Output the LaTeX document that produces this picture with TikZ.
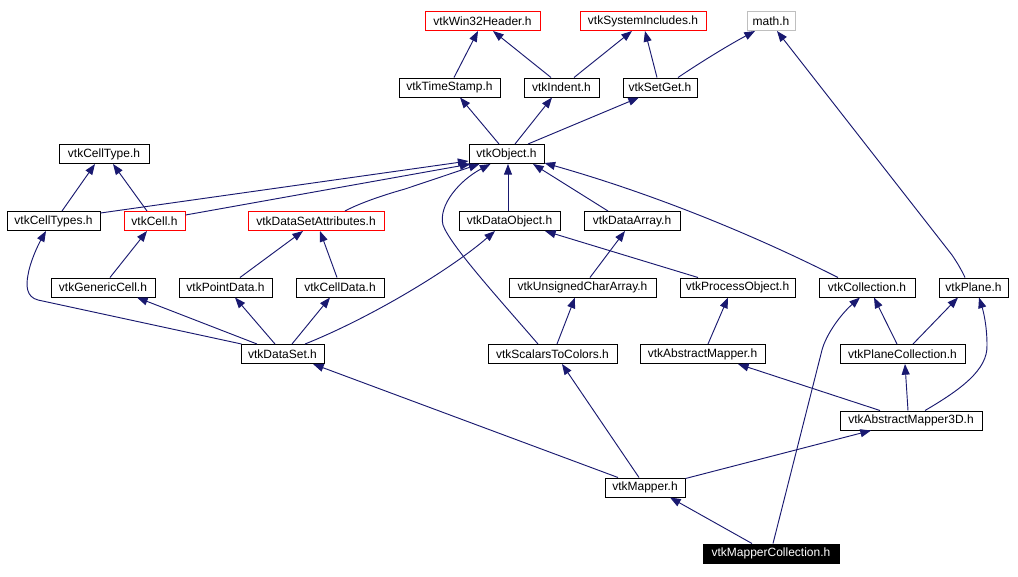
\documentclass[tikz,border=0pt]{standalone}
\usepackage{fontspec}
\setmainfont{Liberation Sans}
\usetikzlibrary{calc,arrows.meta}
\definecolor{edgeblue}{HTML}{191970}
\definecolor{boxred}{HTML}{FF0000}
\definecolor{boxgray}{HTML}{BFBFBF}
\begin{document}
\begin{tikzpicture}[x=0.75pt,y=-0.75pt,
  box/.style={draw=black, line width=0.75pt, minimum height=14.25pt, inner sep=0pt, font=\fontsize{9pt}{10.8pt}\selectfont},
  redbox/.style={box, draw=boxred},
  graybox/.style={box, draw=boxgray},
  rootbox/.style={box, fill=black, text=white},
  dep/.style={draw=edgeblue, line width=0.7pt, -{Triangle[length=8pt,width=6pt]}}
]
\fill[white] (0,0) rectangle (1018,576);
\useasboundingbox (0,0) rectangle (1018,576);

% row 1
\node[redbox, minimum width=86.25pt] (win32) at (482.5,21) {vtkWin32Header.h};
\node[redbox, minimum width=94.5pt] (sysinc) at (643,21) {vtkSystemIncludes.h};
\node[graybox, minimum width=36pt] (math) at (771,21) {math.h};
% row 2
\node[box, minimum width=75.75pt] (timestamp) at (449.5,87.5) {vtkTimeStamp.h};
\node[box, minimum width=56.25pt] (indent) at (561.5,87.5) {vtkIndent.h};
\node[box, minimum width=55.5pt] (setget) at (660,87.5) {vtkSetGet.h};
% row 3
\node[box, minimum width=67.5pt] (celltype) at (104,154) {vtkCellType.h};
\node[box, minimum width=56.25pt] (object) at (506.5,154) {vtkObject.h};
% row 4
\node[box, minimum width=69.75pt] (celltypes) at (53.5,221) {vtkCellTypes.h};
\node[redbox, minimum width=45.75pt] (cell) at (154.5,221) {vtkCell.h};
\node[redbox, minimum width=102pt] (dsattr) at (316,221) {vtkDataSetAttributes.h};
\node[box, minimum width=75.75pt] (dataobject) at (509.5,221) {vtkDataObject.h};
\node[box, minimum width=72pt] (dataarray) at (632,221) {vtkDataArray.h};
% row 5
\node[box, minimum width=78pt] (genericcell) at (103,287.5) {vtkGenericCell.h};
\node[box, minimum width=69.75pt] (pointdata) at (225.5,287.5) {vtkPointData.h};
\node[box, minimum width=66pt] (celldata) at (340,287.5) {vtkCellData.h};
\node[box, minimum width=110.25pt] (ucarray) at (582.5,287.5) {vtkUnsignedCharArray.h};
\node[box, minimum width=86.25pt] (procobj) at (737.5,287.5) {vtkProcessObject.h};
\node[box, minimum width=72pt] (collection) at (867,287.5) {vtkCollection.h};
\node[box, minimum width=51.75pt] (plane) at (973.5,287.5) {vtkPlane.h};
% row 6
\node[box, minimum width=62.25pt] (dataset) at (282.5,354) {vtkDataSet.h};
\node[box, minimum width=96.75pt] (s2c) at (552.5,354) {vtkScalarsToColors.h};
\node[box, minimum width=93.75pt] (absmapper) at (702.5,354) {vtkAbstractMapper.h};
\node[box, minimum width=93.75pt] (planecoll) at (902.5,354) {vtkPlaneCollection.h};
% row 7
\node[box, minimum width=106.5pt] (absmapper3d) at (911,420.5) {vtkAbstractMapper3D.h};
% row 8
\node[box, minimum width=60pt] (mapper) at (645,487.5) {vtkMapper.h};
% row 9
\node[rootbox, minimum width=102pt] (mappercoll) at (771,553.5) {vtkMapperCollection.h};

% edges
\draw[dep] ($(timestamp.north)+(4.5,0)$) -- ($(win32.south)+(-4.5,0)$);
\draw[dep] ($(indent.north)+(-10.5,0)$) -- ($(win32.south)+(10.5,0)$);
\draw[dep] ($(indent.north)+(12.5,0)$) -- ($(sysinc.south)+(-11,0)$);
\draw[dep] ($(setget.north)+(-3,0)$) -- ($(sysinc.south)+(2,0)$);
\draw[dep] ($(setget.north)+(18,0)$) .. controls (695,66) and (725,47) .. ($(math.south)+(-16,0)$);
\draw[dep] ($(object.north)+(-7.5,0)$) -- ($(timestamp.south)+(10.5,0)$);
\draw[dep] ($(object.north)+(8.5,0)$) -- ($(indent.south)+(-9.5,0)$);
\draw[dep] ($(object.north)+(21.5,0)$) -- ($(setget.south)+(-21,0)$);
\draw[dep] ($(plane.north)+(-8.5,0)$) .. controls (961,269) and (958,264) .. (952,255) -- ($(math.south)+(6,0)$);
\draw[dep] ($(celltypes.north)+(8.5,0)$) -- ($(celltype.south)+(-9,0)$);
\draw[dep] ($(cell.north)+(-7.5,0)$) -- ($(celltype.south)+(9,0)$);
\draw[dep] ($(celltypes.north east)+(0,2)$) -- ($(object.south west)+(0,-3)$);
\draw[dep] ($(cell.north east)+(0,4)$) -- ($(object.south west)+(2,0)$);
\draw[dep] ($(dsattr.north)+(29,0)$) .. controls (358,204) and (380,196) .. (405,189) -- ($(object.south west)+(11,0)$);
\draw[dep] ($(s2c.north)+(-14.5,0)$) .. controls (500,300) and (450,245) .. (443,225) .. controls (438,205) and (460,180) .. ($(object.south west)+(22,0)$);
\draw[dep] ($(dataobject.north)+(-1.5,0)$) -- ($(object.south)+(1.5,0)$);
\draw[dep] ($(dataarray.north)+(-24,0)$) -- ($(object.south)+(26.5,0)$);
\draw[dep] ($(collection.north)+(-29,0)$) .. controls (740,228) and (640,190) .. ($(object.south east)+(0,-1)$);
\draw[dep] ($(genericcell.north)+(7,0)$) -- ($(cell.south)+(-7.5,0)$);
\draw[dep] ($(pointdata.north)+(14.5,0)$) -- ($(dsattr.south)+(-13,0)$);
\draw[dep] ($(celldata.north)+(-3,0)$) -- ($(dsattr.south)+(4,0)$);
\draw[dep] ($(ucarray.north)+(7.5,0)$) -- ($(dataarray.south)+(-7,0)$);
\draw[dep] ($(procobj.north)+(-39.5,0)$) -- ($(dataobject.south)+(35.5,0)$);
\draw[dep] ($(dataset.north west)+(1,0)$) -- (38,300) .. controls (26,297) and (26,285) .. (28,275) .. controls (30,262) and (38,245) .. ($(celltypes.south)+(-7.5,0)$);
\draw[dep] ($(dataset.north)+(-25.5,0)$) -- ($(genericcell.south)+(34,0)$);
\draw[dep] ($(dataset.north)+(-7.5,0)$) -- ($(pointdata.south)+(9.5,0)$);
\draw[dep] ($(dataset.north)+(9.5,0)$) -- ($(celldata.south)+(-10,0)$);
\draw[dep] ($(dataset.north)+(22.5,0)$) .. controls (370,318) and (450,270) .. ($(dataobject.south)+(-14.5,0)$);
\draw[dep] ($(s2c.north)+(4.5,0)$) -- ($(ucarray.south)+(-7.5,0)$);
\draw[dep] ($(absmapper.north)+(5.5,0)$) -- ($(procobj.south)+(-9.5,0)$);
\draw[dep] ($(planecoll.north)+(-5.5,0)$) -- ($(collection.south)+(7,0)$);
\draw[dep] ($(planecoll.north)+(10.5,0)$) -- ($(plane.south)+(-15.5,0)$);
\draw[dep] ($(absmapper3d.north)+(-31,0)$) -- ($(absmapper.south)+(35.5,0)$);
\draw[dep] ($(absmapper3d.north)+(-3,0)$) -- ($(planecoll.south)+(2.5,0)$);
\draw[dep] ($(absmapper3d.north)+(14,0)$) .. controls (960,390) and (988,370) .. (987,345) .. controls (987,325) and (983,310) .. ($(plane.south)+(5.5,0)$);
\draw[dep] ($(mapper.north)+(-27,0)$) -- ($(dataset.south)+(30.5,0)$);
\draw[dep] ($(mapper.north)+(-6,0)$) -- ($(s2c.south)+(9.5,0)$);
\draw[dep] ($(mapper.north east)+(0,1)$) -- ($(absmapper3d.south)+(-40,0)$);
\draw[dep] ($(mappercoll.north)+(-19,0)$) -- ($(mapper.south)+(25,0)$);
\draw[dep] ($(mappercoll.north)+(2,0)$) -- (822,350) .. controls (826,335) and (840,315) .. ($(collection.south)+(-7,0)$);
\end{tikzpicture}
\end{document}
